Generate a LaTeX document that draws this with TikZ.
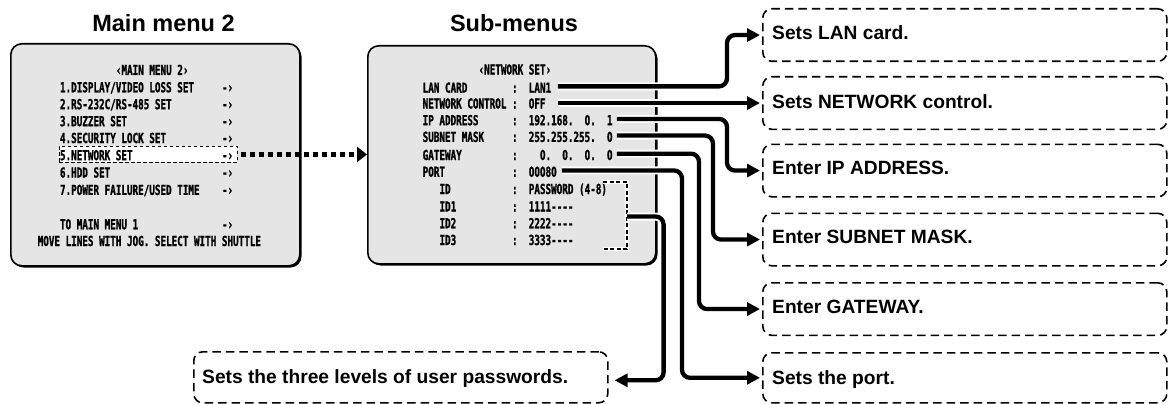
\documentclass[tikz,border=0pt]{standalone}
\usepackage{fontspec}
\setmainfont{Liberation Sans}
\newfontfamily\osd[FakeStretch=0.672,FakeBold=1.2,Ligatures=TeXOff]{DejaVu Sans Mono Bold}
\newfontfamily\osdzero[FakeStretch=0.56,FakeBold=1.2]{DejaVu Sans Bold}
\usetikzlibrary{arrows.meta}
\definecolor{osdgray}{gray}{0.9}
\newcommand\blank{\hphantom{0}}
\newcommand\zr{\makebox[5.585pt][c]{\osdzero 0}}
\begin{document}
\begin{tikzpicture}[x=1pt,y=-1pt,
  osd/.style={inner sep=0pt, anchor=base west, font=\osd\fontsize{13.8}{15}\selectfont},
  ttl/.style={inner sep=0pt, anchor=base, font=\bfseries\fontsize{23.5}{28}\selectfont},
  desc/.style={inner sep=0pt, anchor=base west, font=\bfseries\fontsize{19.2}{23}\selectfont},
  menubox/.style={draw=black, line width=1.6pt, fill=osdgray, rounded corners=11pt, inner sep=0pt, anchor=north west},
  dbox/.style={draw=black, line width=1.6pt, dash pattern=on 8.5pt off 5pt, rounded corners=9pt, inner sep=0pt, anchor=north west},
  casing/.style={white, line width=8pt, rounded corners=8pt},
  conn/.style={black, line width=4.3pt, rounded corners=8pt, -{Triangle[length=13pt,width=13pt]}},
  dotarrow/.style={black, line width=5pt, dash pattern=on 5pt off 4pt, -{Triangle[length=10pt,width=15pt]}},
  hlbox/.style={draw=black, fill=white, line width=0.9pt, dash pattern=on 3.5pt off 2.5pt, inner sep=0pt, anchor=north west}
]
\useasboundingbox (0,0) rectangle (1168,404);
\fill[white] (0,0) rectangle (1168,404);

% titles
\node[ttl] (t1) at (163.5,31.7) {Main menu 2};
\node[ttl] (t2) at (514,31.7) {Sub-menus};

% main menu box
\fill[rounded corners=11pt] (12.5,45.5) rectangle (301.5,267.5);
\node[menubox, minimum width=289pt, minimum height=222pt] (mainbox) at (10,43) {};
\node[hlbox, minimum width=178pt, minimum height=16pt] (hl) at (59,146) {};

\node[osd] (m0) at (115.7,75) {‹MAIN\blank MENU\blank 2›};
\node[osd] (m1) at (59.8,92.3) {1.DISPLAY/VIDEO\blank LOSS\blank SET};
\node[osd] (m2) at (59.8,109.2) {2.RS-232C/RS-485\blank SET};
\node[osd] (m3) at (59.8,126.2) {3.BUZZER\blank SET};
\node[osd] (m4) at (59.8,143) {4.SECURITY\blank LOCK\blank SET};
\node[osd] (m5) at (59.8,160.2) {5.NETWORK\blank SET};
\node[osd] (m6) at (59.8,177.5) {6.HDD\blank SET};
\node[osd] (m7) at (59.8,194.9) {7.POWER\blank FAILURE/USED\blank TIME};
\node[osd] (m8) at (59.8,229.3) {TO\blank MAIN\blank MENU\blank 1};
\node[osd] (m9) at (37.5,246) {MOVE\blank LINES\blank WITH\blank JOG.\blank SELECT\blank WITH\blank SHUTTLE};
\foreach \yy/\nn in {92.3/1,109.2/2,126.2/3,143/4,160.2/5,177.5/6,194.9/7,229.3/8}
  \node[osd] (a\nn) at (221.8,\yy) {-›};

% sub-menu box
\fill[rounded corners=11pt] (369.5,47.5) rectangle (657.5,265.5);
\node[menubox, minimum width=288pt, minimum height=218pt] (sub) at (367,45) {};

\node[osd] (s0) at (478.4,74.5) {‹NETWORK\blank SET›};
\node[osd] (l0) at (422.5,92.7) {LAN\blank CARD};
\node[osd] (l1) at (422.5,108.5) {NETWORK\blank CONTROL};
\node[osd] (l2) at (422.5,125.2) {IP\blank ADDRESS};
\node[osd] (l3) at (422.5,141.9) {SUBNET\blank MASK};
\node[osd] (l4) at (422.5,160) {GATEWAY};
\node[osd] (l5) at (422.5,176.8) {PORT};
\node[osd] (l6) at (439.3,194) {ID};
\node[osd] (l7) at (439.3,211.5) {ID1};
\node[osd] (l8) at (439.3,228.3) {ID2};
\node[osd] (l9) at (439.3,245) {ID3};
\foreach \yy/\nn in {92.7/0,108.5/1,125.2/2,141.9/3,160/4,176.8/5,194/6,211.5/7,228.3/8,245/9}
  \node[osd] (c\nn) at (511.9,\yy) {:};
\node[osd] (lanv) at (528.6,92.7) {LAN1};
\node[osd] (netv) at (528.6,108.5) {OFF};
\node[osd] (ipv) at (528.6,125.2) {192.168.\blank\blank\zr.\blank\blank 1};
\node[osd] (subv) at (528.6,141.9) {255.255.255.\blank\blank\zr};
\node[osd] (gwv) at (528.6,160) {\blank\blank\zr.\blank\blank\zr.\blank\blank\zr.\blank\blank\zr};
\node[osd] (portv) at (528.6,176.8) {\zr\zr\zr8\zr};
\node[osd] (idv) at (528.6,194) {PASSWORD\blank (4-8)};
\node[osd] (id1v) at (528.6,211.5) {1111----};
\node[osd] (id2v) at (528.6,228.3) {2222----};
\node[osd] (id3v) at (528.6,245) {3333----};

% bracket
\draw[white, line width=3.5pt] (603,182) -- (627,182) -- (627,249) -- (603,249);
\draw[black, line width=2pt, dash pattern=on 4pt off 2.5pt] (603,182) -- (627,182) -- (627,249) -- (603,249);
\coordinate (brk) at (627,216.5);

% description boxes
\node[dbox, minimum width=404pt, minimum height=52.5pt] (b1) at (762,8) {};
\node[dbox, minimum width=404pt, minimum height=52.5pt] (b2) at (762,76) {};
\node[dbox, minimum width=404pt, minimum height=52.5pt] (b3) at (762,143.5) {};
\node[dbox, minimum width=404pt, minimum height=52.5pt] (b4) at (762,212.5) {};
\node[dbox, minimum width=404pt, minimum height=52.5pt] (b5) at (762,282) {};
\node[dbox, minimum width=404pt, minimum height=50pt] (b6) at (762,352) {};
\node[dbox, minimum width=414pt, minimum height=51pt] (pw) at (193,351) {};

\node[desc] (d1) at (772,39.3) {Sets LAN card.};
\node[desc] (d2) at (772,108.3) {Sets NETWORK control.};
\node[desc] (d3) at (772,174.5) {Enter IP ADDRESS.};
\node[desc] (d4) at (772,243) {Enter SUBNET MASK.};
\node[desc] (d5) at (772,313) {Enter GATEWAY.};
\node[desc] (d6) at (772,384.5) {Sets the port.};
\node[desc] (d7) at (202,383) {Sets the three levels of user passwords.};

% connectors: casing
\draw[casing] ([xshift=6.5pt,yshift=1.3pt]lanv.east) -| ([xshift=-35pt]b1.west) -- ([xshift=-14pt]b1.west);
\draw[casing] ([xshift=12pt]netv.east |- b2.west) -- ([xshift=-14pt]b2.west);
\draw[casing] ([xshift=4pt,yshift=1.3pt]ipv.east) -| ([xshift=-35pt]b3.west) -- ([xshift=-14pt]b3.west);
\draw[casing] ([xshift=4pt,yshift=1.3pt]subv.east) -| ([xshift=-49pt]b4.west) -- ([xshift=-14pt]b4.west);
\draw[casing] ([xshift=4pt,yshift=1.3pt]gwv.east) -| ([xshift=-63pt]b5.west) -- ([xshift=-14pt]b5.west);
\draw[casing] ([xshift=5pt,yshift=1.3pt]portv.east) -| ([xshift=-80pt]b6.west) -- ([xshift=-14pt]b6.west);
\draw[casing] (brk) -| ([xshift=55pt,yshift=-3pt]pw.east) -- ([xshift=18pt,yshift=-3pt]pw.east);
% connectors
\draw[conn] ([xshift=6.5pt,yshift=1.3pt]lanv.east) -| ([xshift=-35pt]b1.west) -- ([xshift=-2pt]b1.west);
\draw[conn] ([xshift=12pt]netv.east |- b2.west) -- ([xshift=-2pt]b2.west);
\draw[conn] ([xshift=4pt,yshift=1.3pt]ipv.east) -| ([xshift=-35pt]b3.west) -- ([xshift=-2pt]b3.west);
\draw[conn] ([xshift=4pt,yshift=1.3pt]subv.east) -| ([xshift=-49pt]b4.west) -- ([xshift=-2pt]b4.west);
\draw[conn] ([xshift=4pt,yshift=1.3pt]gwv.east) -| ([xshift=-63pt]b5.west) -- ([xshift=-2pt]b5.west);
\draw[conn] ([xshift=5pt,yshift=1.3pt]portv.east) -| ([xshift=-80pt]b6.west) -- ([xshift=-2pt]b6.west);
\draw[conn] (brk) -| ([xshift=55pt,yshift=-3pt]pw.east) -- ([xshift=6pt,yshift=-3pt]pw.east);

% dotted arrow from main menu to sub-menu
\draw[dotarrow] ([xshift=3pt]hl.east) -- (sub.west |- hl.east);
\end{tikzpicture}
\end{document}
